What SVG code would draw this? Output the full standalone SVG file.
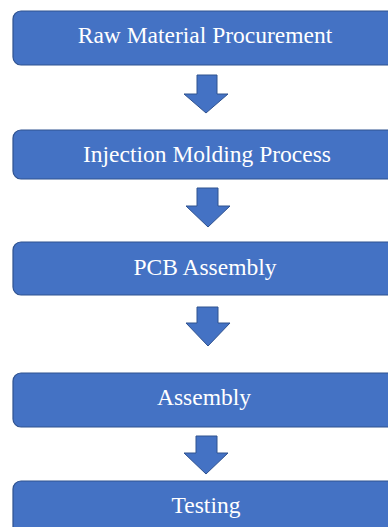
<svg xmlns="http://www.w3.org/2000/svg" width="388" height="527" viewBox="0 0 388 527">
<style>
.box{fill:#4472C4;stroke:#2F528F;stroke-width:1.2}
.lbl{font-family:"Liberation Serif","Times New Roman",serif;font-size:23.5px;fill:#FFFFFF;text-anchor:middle}
.arr{fill:#4472C4;stroke:#2F528F;stroke-width:1}
</style>
<rect width="388" height="527" fill="#FFFFFF"/>
<g id="connectors">
<path class="arr" d="M197,75 H217 V94 H228 L206,113 L184,94 H197 Z"/>
<path class="arr" d="M197,188 H218 V206 H230 L208,227 L186,206 H197 Z"/>
<path class="arr" d="M197,307 H218 V323 H230 L208,346 L186,323 H197 Z"/>
<path class="arr" d="M196,436 H217 V453 H228 L206,474 L184,453 H196 Z"/>
</g>
<g id="node1"><rect class="box" x="13" y="11" width="390" height="54" rx="8"/><text class="lbl" x="205" y="43">Raw Material Procurement</text></g>
<g id="node2"><rect class="box" x="13" y="130" width="390" height="49" rx="8"/><text class="lbl" x="207" y="162">Injection Molding Process</text></g>
<g id="node3"><rect class="box" x="13" y="242" width="390" height="53" rx="8"/><text class="lbl" x="205" y="275">PCB Assembly</text></g>
<g id="node4"><rect class="box" x="13" y="373" width="390" height="54" rx="8"/><text class="lbl" x="204" y="405">Assembly</text></g>
<g id="node5"><rect class="box" x="13" y="481" width="390" height="60" rx="8"/><text class="lbl" x="206" y="513">Testing</text></g>
</svg>
